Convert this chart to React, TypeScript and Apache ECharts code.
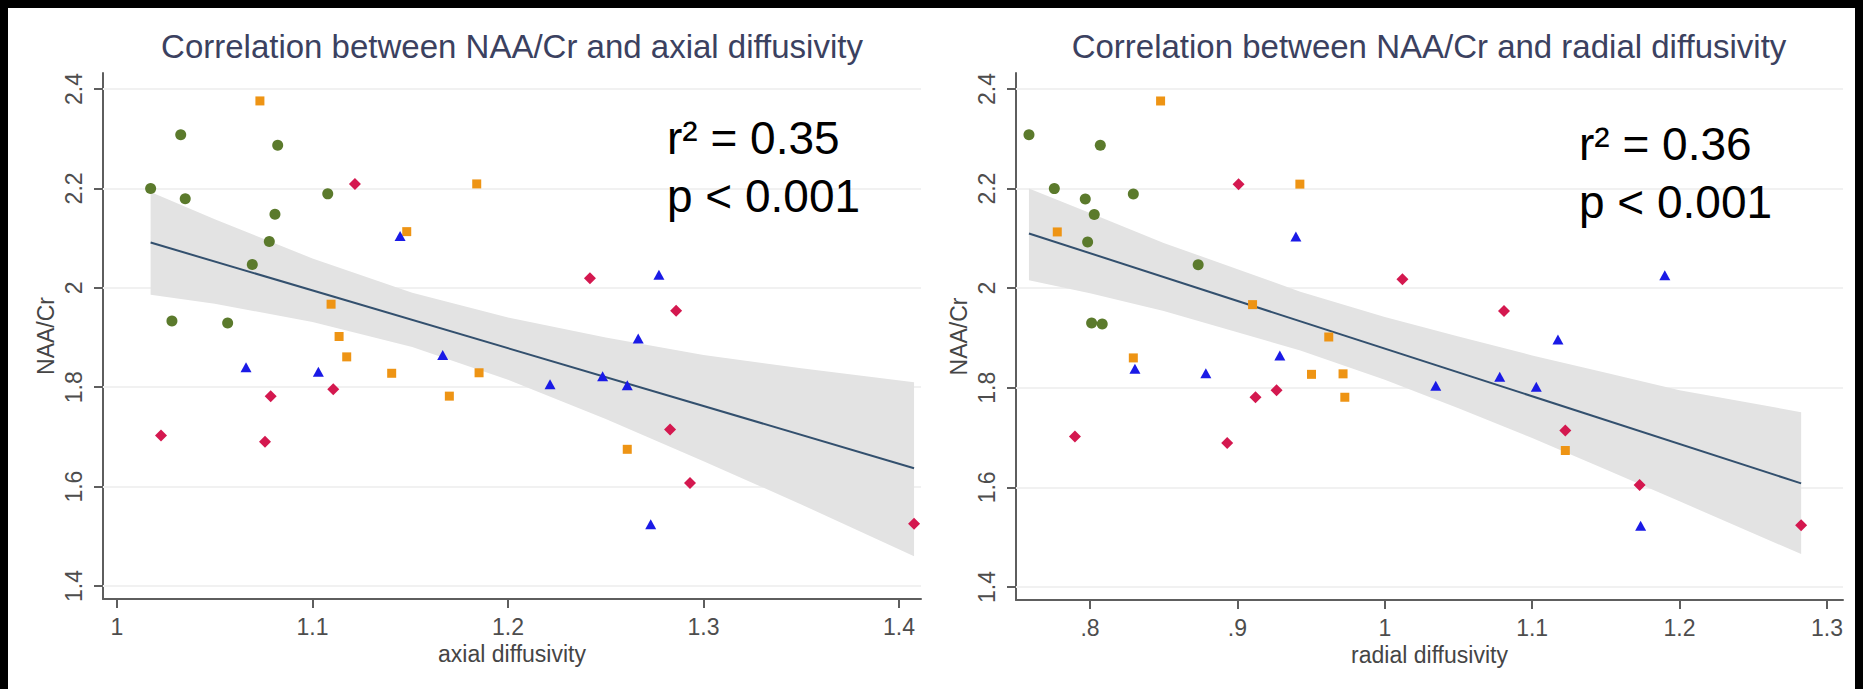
import React, { useEffect, useRef } from "react";
import * as echarts from "echarts";

const FONT = '"Liberation Sans", Arial, sans-serif';

const titles = [
  "Correlation between NAA/Cr and axial diffusivity",
  "Correlation between NAA/Cr and radial diffusivity",
];
const xNames = ["axial diffusivity", "radial diffusivity"];
const yName = "NAA/Cr";
const yTicks = [1.4, 1.6, 1.8, 2.0, 2.2, 2.4];
const axialTicks = [1, 1.1, 1.2, 1.3, 1.4];
const radialTicks = [0.8, 0.9, 1, 1.1, 1.2, 1.3];
const statsAxial = ["r² = 0.35", "p < 0.001"];
const statsRadial = ["r² = 0.36", "p < 0.001"];

// [diffusivity, NAA/Cr]
const axialGreen = [
  [1.0326, 2.308], [1.0822, 2.287], [1.0172, 2.2], [1.0349, 2.179], [1.1078, 2.189],
  [1.0808, 2.148], [1.0779, 2.093], [1.0692, 2.047], [1.0281, 1.933], [1.0566, 1.929],
];
const axialOrange = [
  [1.0731, 2.376], [1.1482, 2.113], [1.1095, 1.967], [1.1136, 1.902], [1.1175, 1.861],
  [1.1405, 1.828], [1.184, 2.209], [1.1852, 1.829], [1.17, 1.782], [1.261, 1.675],
];
const axialBlue = [
  [1.1448, 2.104], [1.1666, 1.865], [1.066, 1.84], [1.103, 1.831], [1.2772, 2.026],
  [1.2666, 1.898], [1.2484, 1.822], [1.2215, 1.806], [1.261, 1.804], [1.273, 1.524],
];
const axialRed = [
  [1.1217, 2.209], [1.2419, 2.019], [1.286, 1.954], [1.2829, 1.715], [1.2931, 1.607],
  [1.4077, 1.525], [1.1106, 1.796], [1.0786, 1.782], [1.0225, 1.703], [1.0757, 1.69],
];

const radialGreen = [
  [0.7586, 2.308], [0.807, 2.287], [0.7758, 2.2], [0.7968, 2.179], [0.8294, 2.189],
  [0.8029, 2.148], [0.7984, 2.093], [0.8734, 2.047], [0.8011, 1.93], [0.8083, 1.928],
];
const radialOrange = [
  [0.8479, 2.376], [0.9424, 2.209], [0.7778, 2.113], [0.9103, 1.967], [0.962, 1.902],
  [0.8294, 1.86], [0.9503, 1.827], [0.9717, 1.828], [0.9729, 1.781], [1.1225, 1.674],
];
const radialBlue = [
  [0.9397, 2.104], [0.8305, 1.838], [0.9288, 1.865], [0.8786, 1.829], [1.19, 2.026],
  [1.1175, 1.897], [1.078, 1.822], [1.0346, 1.804], [1.1028, 1.802], [1.1736, 1.523],
];
const radialRed = [
  [0.9008, 2.209], [0.9266, 1.795], [0.9123, 1.781], [0.7898, 1.702], [0.8931, 1.689],
  [1.012, 2.018], [1.0809, 1.954], [1.1225, 1.714], [1.1729, 1.605], [1.2825, 1.524],
];

const axialFit = [[1.0172, 2.091], [1.4077, 1.637]];
const axialBandX = [1.0172, 1.05, 1.1, 1.151, 1.2, 1.25, 1.3, 1.35, 1.4077];
const axialBandUpper = [2.193, 2.138, 2.059, 1.99, 1.94, 1.9, 1.865, 1.838, 1.81];
const axialBandLower = [1.986, 1.968, 1.931, 1.881, 1.815, 1.736, 1.651, 1.564, 1.46];

const radialFit = [[0.7586, 2.11], [1.2825, 1.608]];
const radialBandX = [0.7586, 0.8, 0.85, 0.9427, 1.0, 1.05, 1.1, 1.15, 1.2, 1.2825];
const radialBandUpper = [2.2, 2.151, 2.091, 1.993, 1.942, 1.903, 1.865, 1.83, 1.795, 1.751];
const radialBandLower = [2.016, 1.99, 1.954, 1.875, 1.816, 1.759, 1.699, 1.636, 1.572, 1.466];

const COLORS = { green: "#5b7a2c", orange: "#ee9414", blue: "#1a1ae6", red: "#d4184f" };

const fmt = (v: number) => {
  let s = String(Math.round(v * 10) / 10);
  if (s.startsWith("0.")) s = s.slice(1);
  return s;
};

export default function App() {
  const ref = useRef<HTMLDivElement>(null);
  useEffect(() => {
    document.body.style.background = "#000";
    document.body.style.overflow = "hidden";
    if (!ref.current) return;
    const chart = echarts.init(ref.current, undefined, { renderer: "svg" });

    const grids = [
      { left: 95, top: 65, width: 818, height: 526 },
      { left: 1008, top: 65, width: 827, height: 527 },
    ];
    const xRanges = [
      [0.99284, 1.41125],
      [0.7498, 1.3109],
    ];
    const xTickSets = [axialTicks, radialTicks];

    const axisLine = { show: true, lineStyle: { color: "#5e5e5e", width: 2 } };
    const axisTick = (vals: number[]) => ({
      show: true,
      length: 9,
      customValues: vals,
      lineStyle: { color: "#5e5e5e", width: 2 },
    });

    const xAxis = [0, 1].map((i) => ({
      type: "value",
      gridIndex: i,
      min: xRanges[i][0],
      max: xRanges[i][1],
      name: xNames[i],
      nameLocation: "middle",
      nameGap: 37,
      nameTextStyle: { fontFamily: FONT, fontSize: 23, color: "#454545" },
      axisLine,
      axisTick: axisTick(xTickSets[i]),
      axisLabel: {
        customValues: xTickSets[i],
        formatter: fmt,
        margin: 16,
        fontFamily: FONT,
        fontSize: 23,
        color: "#4d4d4d",
      },
      splitLine: { show: false },
    }));

    const yAxis = [0, 1].map((i) => ({
      type: "value",
      gridIndex: i,
      min: 1.3738,
      max: 2.4322,
      name: yName,
      nameLocation: "middle",
      nameGap: 46,
      nameTextStyle: { fontFamily: FONT, fontSize: 23, color: "#454545" },
      axisLine,
      axisTick: axisTick(yTicks),
      axisLabel: {
        customValues: yTicks,
        formatter: fmt,
        rotate: 90,
        margin: 18,
        fontFamily: FONT,
        fontSize: 23,
        color: "#4d4d4d",
      },
      splitLine: { show: false },
    }));

    const bandSeries = (i: number, bx: number[], up: number[], lo: number[]) => ({
      type: "custom",
      xAxisIndex: i,
      yAxisIndex: i,
      silent: true,
      z: 2,
      data: [[bx[0], lo[0]]],
      renderItem: (params: any, api: any) => {
        const pts: number[][] = [];
        for (let k = 0; k < bx.length; k++) pts.push(api.coord([bx[k], up[k]]));
        for (let k = bx.length - 1; k >= 0; k--) pts.push(api.coord([bx[k], lo[k]]));
        return { type: "polygon", shape: { points: pts }, style: { fill: "#e3e3e3" } };
      },
    });

    const fitSeries = (i: number, data: number[][]) => ({
      type: "line",
      xAxisIndex: i,
      yAxisIndex: i,
      data,
      symbol: "none",
      silent: true,
      z: 3,
      lineStyle: { color: "#33506e", width: 2 },
      markLine: {
        silent: true,
        symbol: "none",
        label: { show: false },
        z: 1,
        lineStyle: { color: "#f1f1f1", width: 2, type: "solid" },
        data: yTicks.map((v) => ({ yAxis: v })),
      },
    });

    const scatter = (i: number, data: number[][], color: string, symbol: string, size: any) => ({
      type: "scatter",
      xAxisIndex: i,
      yAxisIndex: i,
      data,
      symbol,
      symbolSize: size,
      z: 4,
      itemStyle: { color, opacity: 1 },
    });

    const textEl = (x: number, y: number, text: string, size: number, color: string, align = "left") => ({
      type: "text",
      x,
      y,
      z: 100,
      silent: true,
      style: {
        text,
        fontFamily: FONT,
        fontSize: size,
        fill: color,
        align,
        verticalAlign: "middle",
      },
    });

    chart.setOption({
      animation: false,
      backgroundColor: "#ffffff",
      grid: grids,
      xAxis,
      yAxis,
      series: [
        bandSeries(0, axialBandX, axialBandUpper, axialBandLower),
        fitSeries(0, axialFit),
        scatter(0, axialGreen, COLORS.green, "circle", 11),
        scatter(0, axialOrange, COLORS.orange, "rect", 9),
        scatter(0, axialBlue, COLORS.blue, "triangle", [11, 10]),
        scatter(0, axialRed, COLORS.red, "diamond", [12, 12]),
        bandSeries(1, radialBandX, radialBandUpper, radialBandLower),
        fitSeries(1, radialFit),
        scatter(1, radialGreen, COLORS.green, "circle", 11),
        scatter(1, radialOrange, COLORS.orange, "rect", 9),
        scatter(1, radialBlue, COLORS.blue, "triangle", [11, 10]),
        scatter(1, radialRed, COLORS.red, "diamond", [12, 12]),
      ],
      graphic: {
        elements: [
          textEl(504, 38.5, titles[0], 33, "#3b4160", "center"),
          textEl(1421, 38.5, titles[1], 33, "#3b4160", "center"),
          textEl(659, 130, statsAxial[0], 46, "#000000"),
          textEl(659, 188, statsAxial[1], 46, "#000000"),
          textEl(1571, 136, statsRadial[0], 46, "#000000"),
          textEl(1571, 194, statsRadial[1], 46, "#000000"),
        ],
      },
    });
    return () => chart.dispose();
  }, []);
  return <div ref={ref} style={{ width: 1855, height: 681 }} />;
}
